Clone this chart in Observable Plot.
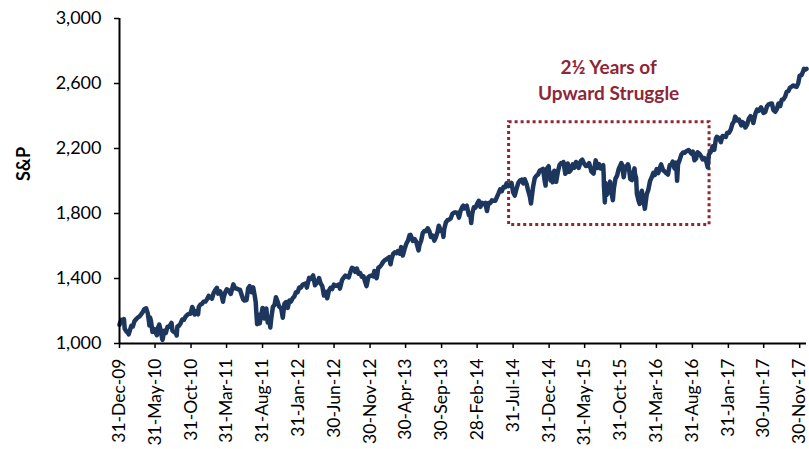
<!DOCTYPE html>
<html><head><meta charset="utf-8">
<script src="https://cdn.jsdelivr.net/npm/d3@7"></script>
<script src="https://cdn.jsdelivr.net/npm/@observablehq/plot@0.6"></script>
<style>body{margin:0;background:#fff;}</style>
</head><body><div id="chart"></div>
<script>
// S&P 500 closes (approximate)
const sp2010 = [["2009-12-31",1115],["2010-01-04",1133],["2010-01-08",1145],["2010-01-15",1136],["2010-01-19",1150],["2010-01-22",1092],["2010-01-29",1074],["2010-02-05",1066],["2010-02-08",1056],["2010-02-12",1075],["2010-02-19",1109],["2010-02-26",1105],["2010-03-05",1139],["2010-03-12",1150],["2010-03-19",1160],["2010-03-26",1167],["2010-04-01",1178],["2010-04-09",1194],["2010-04-15",1211],["2010-04-23",1217],["2010-04-30",1187],["2010-05-06",1128],["2010-05-07",1111],["2010-05-10",1160],["2010-05-14",1136],["2010-05-20",1071],["2010-05-25",1074],["2010-05-28",1089],["2010-06-04",1064],["2010-06-08",1051],["2010-06-11",1092],["2010-06-18",1117],["2010-06-25",1076],["2010-06-30",1031],["2010-07-02",1022],["2010-07-09",1078],["2010-07-16",1065],["2010-07-23",1103],["2010-07-30",1102],["2010-08-09",1127],["2010-08-13",1079],["2010-08-20",1071],["2010-08-27",1065],["2010-08-31",1049],["2010-09-03",1105],["2010-09-10",1110],["2010-09-17",1125],["2010-09-24",1148],["2010-10-01",1146],["2010-10-08",1166],["2010-10-15",1176],["2010-10-22",1183],["2010-10-29",1183],["2010-11-05",1225],["2010-11-12",1200],["2010-11-16",1178],["2010-11-19",1199],["2010-11-30",1180],["2010-12-03",1225],["2010-12-10",1240],["2010-12-17",1244],["2010-12-23",1257],["2010-12-31",1258]];
const sp2011 = [["2011-01-07",1272],["2011-01-14",1293],["2011-01-21",1283],["2011-01-28",1276],["2011-02-04",1310],["2011-02-11",1329],["2011-02-18",1343],["2011-02-23",1307],["2011-03-04",1321],["2011-03-10",1295],["2011-03-16",1257],["2011-03-18",1279],["2011-03-25",1314],["2011-04-01",1333],["2011-04-08",1328],["2011-04-18",1305],["2011-04-29",1364],["2011-05-06",1340],["2011-05-13",1338],["2011-05-20",1333],["2011-05-27",1331],["2011-06-03",1300],["2011-06-10",1271],["2011-06-15",1265],["2011-06-24",1268],["2011-07-01",1340],["2011-07-07",1353],["2011-07-15",1316],["2011-07-22",1346],["2011-07-29",1292],["2011-08-02",1254],["2011-08-04",1200],["2011-08-08",1119],["2011-08-09",1172],["2011-08-10",1121],["2011-08-12",1178],["2011-08-19",1124],["2011-08-26",1177],["2011-08-31",1219],["2011-09-09",1154],["2011-09-16",1216],["2011-09-22",1129],["2011-09-30",1131],["2011-10-03",1099],["2011-10-07",1155],["2011-10-14",1225],["2011-10-21",1238],["2011-10-27",1285],["2011-11-04",1253],["2011-11-09",1229],["2011-11-18",1216],["2011-11-25",1159],["2011-12-02",1244],["2011-12-09",1255],["2011-12-16",1219],["2011-12-23",1265],["2011-12-30",1258]];
const sp2012 = [["2012-01-06",1278],["2012-01-13",1289],["2012-01-20",1315],["2012-01-27",1316],["2012-02-03",1345],["2012-02-10",1343],["2012-02-17",1361],["2012-02-24",1366],["2012-03-02",1370],["2012-03-06",1344],["2012-03-16",1404],["2012-03-23",1397],["2012-04-02",1419],["2012-04-10",1358],["2012-04-20",1379],["2012-04-27",1403],["2012-05-04",1369],["2012-05-11",1353],["2012-05-18",1295],["2012-05-25",1318],["2012-06-01",1278],["2012-06-08",1325],["2012-06-15",1343],["2012-06-22",1335],["2012-06-29",1362],["2012-07-06",1355],["2012-07-13",1357],["2012-07-20",1363],["2012-07-25",1338],["2012-08-03",1391],["2012-08-10",1405],["2012-08-17",1418],["2012-08-24",1411],["2012-08-31",1407],["2012-09-07",1438],["2012-09-14",1466],["2012-09-21",1460],["2012-09-28",1441],["2012-10-05",1461],["2012-10-12",1429],["2012-10-19",1433],["2012-10-26",1411],["2012-11-02",1414],["2012-11-09",1380],["2012-11-15",1353],["2012-11-23",1409],["2012-11-30",1416],["2012-12-07",1418],["2012-12-14",1413],["2012-12-18",1446],["2012-12-28",1402],["2012-12-31",1426]];
const sp2013 = [["2013-01-04",1466],["2013-01-11",1472],["2013-01-18",1486],["2013-01-25",1503],["2013-02-01",1513],["2013-02-08",1518],["2013-02-19",1531],["2013-02-25",1488],["2013-03-01",1518],["2013-03-08",1551],["2013-03-15",1561],["2013-03-22",1556],["2013-03-28",1569],["2013-04-05",1553],["2013-04-11",1593],["2013-04-18",1541],["2013-04-26",1582],["2013-05-03",1614],["2013-05-10",1633],["2013-05-17",1667],["2013-05-21",1669],["2013-05-31",1631],["2013-06-07",1643],["2013-06-14",1626],["2013-06-24",1573],["2013-06-28",1606],["2013-07-05",1632],["2013-07-12",1680],["2013-07-19",1692],["2013-07-26",1691],["2013-08-02",1709],["2013-08-09",1691],["2013-08-16",1655],["2013-08-23",1664],["2013-08-30",1633],["2013-09-06",1655],["2013-09-13",1688],["2013-09-18",1725],["2013-09-27",1692],["2013-10-04",1690],["2013-10-08",1656],["2013-10-11",1703],["2013-10-18",1744],["2013-10-25",1759],["2013-11-01",1762],["2013-11-08",1771],["2013-11-15",1798],["2013-11-22",1805],["2013-11-27",1807],["2013-12-06",1805],["2013-12-13",1775],["2013-12-20",1818],["2013-12-27",1841],["2013-12-31",1848]];
const sp2014 = [["2014-01-03",1831],["2014-01-10",1842],["2014-01-15",1848],["2014-01-24",1790],["2014-01-31",1783],["2014-02-03",1742],["2014-02-07",1797],["2014-02-14",1838],["2014-02-21",1836],["2014-02-28",1859],["2014-03-07",1878],["2014-03-14",1841],["2014-03-21",1866],["2014-03-28",1858],["2014-04-04",1865],["2014-04-11",1815],["2014-04-17",1864],["2014-04-25",1863],["2014-05-02",1881],["2014-05-09",1878],["2014-05-16",1878],["2014-05-23",1901],["2014-05-30",1924],["2014-06-06",1949],["2014-06-13",1937],["2014-06-20",1963],["2014-06-27",1961],["2014-07-03",1985],["2014-07-11",1968],["2014-07-18",1978],["2014-07-24",1988],["2014-07-31",1931],["2014-08-07",1910],["2014-08-15",1955],["2014-08-22",1988],["2014-08-29",2003],["2014-09-05",2008],["2014-09-12",1985],["2014-09-18",2011],["2014-09-26",1983],["2014-10-02",1946],["2014-10-10",1906],["2014-10-15",1862],["2014-10-17",1886],["2014-10-24",1965],["2014-10-31",2018],["2014-11-07",2032],["2014-11-14",2040],["2014-11-21",2064],["2014-11-28",2068],["2014-12-05",2075],["2014-12-12",2003],["2014-12-16",1972],["2014-12-19",2071],["2014-12-29",2091],["2014-12-31",2059]];
const sp2015 = [["2015-01-02",2058],["2015-01-06",2003],["2015-01-09",2045],["2015-01-15",1992],["2015-01-22",2063],["2015-01-30",1995],["2015-02-06",2055],["2015-02-13",2097],["2015-02-20",2110],["2015-02-27",2105],["2015-03-02",2117],["2015-03-10",2044],["2015-03-13",2053],["2015-03-20",2108],["2015-03-26",2056],["2015-04-02",2067],["2015-04-10",2102],["2015-04-17",2081],["2015-04-24",2117],["2015-05-01",2108],["2015-05-06",2081],["2015-05-15",2123],["2015-05-21",2131],["2015-05-29",2107],["2015-06-05",2093],["2015-06-12",2094],["2015-06-19",2110],["2015-06-29",2058],["2015-07-08",2046],["2015-07-17",2127],["2015-07-24",2080],["2015-07-31",2104],["2015-08-07",2078],["2015-08-14",2092],["2015-08-18",2097],["2015-08-20",2036],["2015-08-21",1971],["2015-08-25",1868],["2015-08-27",1988],["2015-09-01",1914],["2015-09-04",1921],["2015-09-11",1962],["2015-09-16",1996],["2015-09-18",1958],["2015-09-28",1882],["2015-10-02",1951],["2015-10-09",2015],["2015-10-16",2033],["2015-10-23",2075],["2015-11-03",2110],["2015-11-06",2099],["2015-11-13",2023],["2015-11-20",2090],["2015-11-27",2090],["2015-12-01",2103],["2015-12-04",2092],["2015-12-11",2012],["2015-12-18",2006],["2015-12-29",2078],["2015-12-31",2044]];
const sp2016 = [["2016-01-05",2016],["2016-01-08",1922],["2016-01-15",1880],["2016-01-20",1859],["2016-01-22",1907],["2016-01-29",1940],["2016-02-05",1880],["2016-02-11",1829],["2016-02-19",1918],["2016-02-26",1948],["2016-03-04",2000],["2016-03-11",2022],["2016-03-18",2050],["2016-03-24",2036],["2016-04-01",2073],["2016-04-08",2048],["2016-04-15",2081],["2016-04-20",2102],["2016-04-29",2065],["2016-05-06",2058],["2016-05-13",2047],["2016-05-19",2040],["2016-05-27",2099],["2016-06-03",2099],["2016-06-08",2119],["2016-06-16",2077],["2016-06-23",2113],["2016-06-27",2001],["2016-07-01",2103],["2016-07-08",2130],["2016-07-15",2162],["2016-07-22",2175],["2016-07-29",2174],["2016-08-05",2183],["2016-08-15",2190],["2016-08-19",2184],["2016-08-26",2169],["2016-09-02",2180],["2016-09-09",2128],["2016-09-16",2139],["2016-09-22",2177],["2016-09-30",2168],["2016-10-07",2153],["2016-10-14",2133],["2016-10-21",2141],["2016-10-28",2126],["2016-11-04",2085],["2016-11-09",2163],["2016-11-18",2182],["2016-11-25",2213],["2016-12-02",2192],["2016-12-09",2260],["2016-12-13",2272],["2016-12-23",2264],["2016-12-30",2239]];
const sp2017 = [["2017-01-06",2277],["2017-01-13",2275],["2017-01-20",2271],["2017-01-26",2297],["2017-02-03",2297],["2017-02-10",2316],["2017-02-17",2351],["2017-02-24",2367],["2017-03-01",2396],["2017-03-10",2373],["2017-03-17",2378],["2017-03-27",2342],["2017-03-31",2363],["2017-04-07",2355],["2017-04-13",2329],["2017-04-21",2349],["2017-04-28",2384],["2017-05-05",2399],["2017-05-12",2391],["2017-05-17",2357],["2017-05-26",2416],["2017-06-02",2439],["2017-06-09",2432],["2017-06-19",2453],["2017-06-29",2419],["2017-07-07",2425],["2017-07-14",2459],["2017-07-21",2472],["2017-07-27",2475],["2017-08-04",2477],["2017-08-10",2438],["2017-08-18",2426],["2017-08-25",2443],["2017-09-01",2477],["2017-09-08",2461],["2017-09-15",2500],["2017-09-22",2502],["2017-09-29",2519],["2017-10-06",2549],["2017-10-13",2553],["2017-10-20",2575],["2017-10-27",2581],["2017-11-03",2588],["2017-11-10",2582],["2017-11-17",2579],["2017-11-24",2602],["2017-11-30",2648],["2017-12-08",2652],["2017-12-15",2676],["2017-12-18",2690],["2017-12-22",2683],["2017-12-29",2690]];

const tickLabels = ["31-Dec-09","31-May-10","31-Oct-10","31-Mar-11","31-Aug-11","31-Jan-12","30-Jun-12","30-Nov-12","30-Apr-13","30-Sep-13","28-Feb-14","31-Jul-14","31-Dec-14","31-May-15","31-Oct-15","31-Mar-16","31-Aug-16","31-Jan-17","30-Jun-17","30-Nov-17"];
const yTicks = [1000, 1400, 1800, 2200, 2600, 3000];
const yLabel = "S&P";
const boxDates = ["2014-07-14", "2016-11-12"];
const boxValues = [1730, 2362];
const noteLines = ["2½ Years of", "Upward Struggle"];
const noteDate = "2015-09-10";
const noteValues = [2698, 2538];

const parseISO = d3.utcParse("%Y-%m-%d");
const parseTick = d3.utcParse("%d-%b-%y");
const series = [...sp2010, ...sp2011, ...sp2012, ...sp2013, ...sp2014, ...sp2015, ...sp2016, ...sp2017]
  .map(([d, v]) => ({date: parseISO(d), close: v}));
const tickDates = tickLabels.map(parseTick);
const box = [{x1: parseISO(boxDates[0]), x2: parseISO(boxDates[1]), y1: boxValues[0], y2: boxValues[1]}];
const notes = noteLines.map((t, i) => ({t, date: parseISO(noteDate), v: noteValues[i]}));
const start = series[0].date, end = series[series.length - 1].date;
const font = "Lato, 'Noto Sans', sans-serif";

const chart = Plot.plot({
  width: 809, height: 449,
  marginLeft: 119, marginRight: 3, marginTop: 18, marginBottom: 106,
  style: {fontFamily: font, fontSize: "18px", color: "#000", background: "#fff"},
  x: {type: "utc", domain: [start, end]},
  y: {domain: [1000, 3000]},
  marks: [
    Plot.rect(box, {x1: "x1", x2: "x2", y1: "y1", y2: "y2", fill: "none", stroke: "#8e2636", strokeWidth: 3, strokeDasharray: "3,3"}),
    Plot.lineY(series, {x: "date", y: "close", stroke: "#1c365e", strokeWidth: 4.5, strokeLinejoin: "round", strokeLinecap: "round"}),
    Plot.axisY({ticks: yTicks, tickSize: 5, tickPadding: 13, tickFormat: d3.format(","), label: null, fontSize: 18, fontFamily: font, stroke: "#000", strokeWidth: 1.5}),
    Plot.axisX({ticks: tickDates, tickFormat: (d, i) => tickLabels[i], tickRotate: -90, tickSize: 5, tickPadding: 10, label: null, fontSize: 17.5, fontFamily: font, stroke: "#000", strokeWidth: 1.5}),
    Plot.ruleX([start], {stroke: "#000", strokeWidth: 2}),
    Plot.ruleY([1000], {stroke: "#000", strokeWidth: 2}),
    Plot.text([yLabel], {frameAnchor: "left", dx: -95, rotate: -90, fontWeight: "bold", fontSize: 18, fontFamily: font, fill: "#000"}),
    Plot.text(notes, {x: "date", y: "v", text: "t", fill: "#8e2636", fontWeight: "bold", fontSize: 19, fontFamily: font})
  ]
});
document.getElementById("chart").append(chart);
</script>
</body></html>
